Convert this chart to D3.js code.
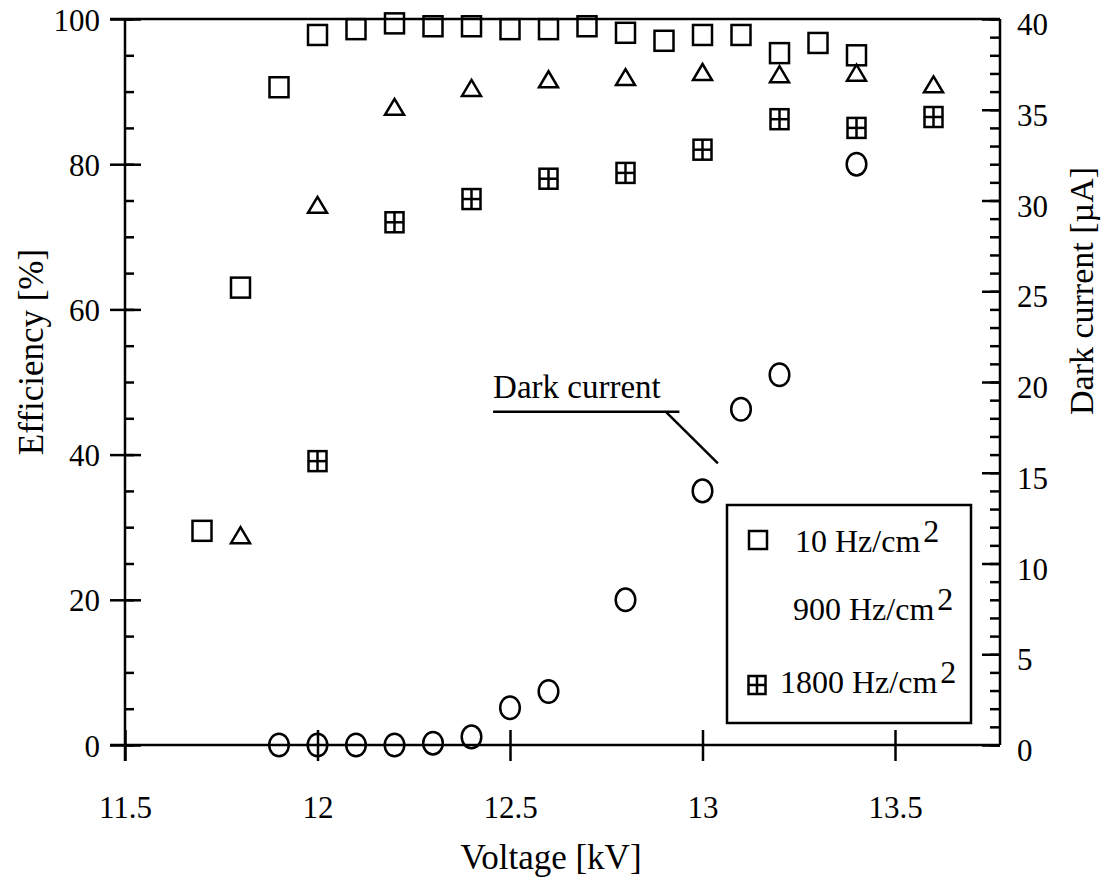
<!DOCTYPE html>
<html><head><meta charset="utf-8">
<script src="https://cdn.jsdelivr.net/npm/d3@7"></script>
<style>
body{margin:0;background:#fff}
</style></head><body>
<svg id="c" width="1104" height="883"></svg>
<script>
// ---- data ----
const voltage10 = [11.7,11.8,11.9,12.0,12.1,12.2,12.3,12.4,12.5,12.6,12.7,12.8,12.9,13.0,13.1,13.2,13.3,13.4];
const eff10     = [29.5,63.0,90.6,97.8,98.6,99.4,99.0,99.0,98.6,98.6,99.0,98.1,97.0,97.8,97.8,95.3,96.7,95.0];
const voltage900 = [11.8,12.0,12.2,12.4,12.6,12.8,13.0,13.2,13.4,13.6];
const eff900     = [28.9,74.4,87.9,90.5,91.7,92.0,92.7,92.4,92.6,91.0];
const voltage1800 = [12.0,12.2,12.4,12.6,12.8,13.0,13.2,13.4,13.6];
const eff1800     = [39.1,72.0,75.2,78.0,78.8,82.0,86.2,85.0,86.5];
const voltageDark = [11.9,12.0,12.1,12.2,12.3,12.4,12.5,12.6,12.8,13.0,13.1,13.2,13.4];
const darkCurrent = [0,0,0,0,0.1,0.45,2.05,2.95,8.0,14.0,18.5,20.4,32.0];
const xTicks = [11.5,12,12.5,13,13.5];
const yLeftTicks = [0,20,40,60,80,100];
const yLeftMinor = d3.range(0,101,5);
const yRightTicks = [0,5,10,15,20,25,30,35,40];
const yRightMinor = d3.range(0,41,1);
const legendLabels = ["10 Hz/cm","900 Hz/cm","1800 Hz/cm"];
const xLabel = "Voltage [kV]", yLeftLabel = "Efficiency [%]", yRightLabel = "Dark current [\u00b5A]";
const annotationText = "Dark current";

// ---- layout ----
const L = 125, R = 1000, T = 19, B = 745;
const FS = 31, LFS = 35;
const FONT = "Liberation Serif";
const svg = d3.select("#c");
const x = d3.scaleLinear().domain([11.5, 11.5 + (R-L)/385]).range([L, R]);
const yL = d3.scaleLinear().domain([0,100]).range([B, T]);
const yR = d3.scaleLinear().domain([0,40]).range([B, T]);
const SW = 2.5;

function styleAxis(g){
  g.attr("font-family",FONT);
  g.select(".domain").remove();
  g.selectAll("line").attr("stroke","#000").attr("stroke-width",SW);
  g.selectAll("text").attr("font-family",FONT).style("font-family",FONT).attr("font-size",FS).attr("fill","#000");
}
function txt(sel){ return sel.append("text").attr("font-family",FONT).style("font-family",FONT).attr("fill","#000"); }

// frame lines
const frame = svg.append("g").attr("stroke","#000").attr("stroke-width",SW).attr("fill","none");
frame.append("line").attr("x1",L).attr("x2",L).attr("y1",T).attr("y2",B+16);
frame.append("line").attr("x1",L-15).attr("x2",R).attr("y1",T).attr("y2",T);
frame.append("line").attr("x1",L-15).attr("x2",R).attr("y1",B).attr("y2",B);
frame.append("line").attr("x1",R).attr("x2",R).attr("y1",T).attr("y2",B);

// left axis
svg.append("g").attr("transform",`translate(${L},0)`)
  .call(d3.axisLeft(yL).tickValues(yLeftMinor).tickSize(-9).tickFormat(""))
  .call(styleAxis);
svg.append("g").attr("transform",`translate(${L},0)`)
  .call(d3.axisLeft(yL).tickValues(yLeftTicks).tickSize(15).tickPadding(10).tickFormat(d3.format("d")))
  .call(styleAxis)
  .call(g=>g.selectAll("line").attr("x1",16))
  .call(g=>g.selectAll("text").attr("dy","0.36em"));

// right axis
svg.append("g").attr("transform",`translate(${R},0)`)
  .call(d3.axisRight(yR).tickValues(yRightMinor).tickSize(-10).tickFormat(""))
  .call(styleAxis);
svg.append("g").attr("transform",`translate(${R},0)`)
  .call(d3.axisRight(yR).tickValues(yRightTicks).tickSize(-18).tickPadding(17).tickFormat(d3.format("d")))
  .call(styleAxis)
  .call(g=>g.selectAll("text").attr("dy","0.5em"));

// bottom axis
svg.append("g").attr("transform",`translate(0,${B})`)
  .call(d3.axisBottom(x).tickValues(xTicks).tickSize(16).tickFormat(d=>String(d)))
  .call(styleAxis)
  .call(g=>g.selectAll("line").attr("y1",-15))
  .call(g=>g.selectAll("text").attr("y",73).attr("dy",0));

// axis labels
txt(svg).attr("x",551).attr("y",869).attr("text-anchor","middle").attr("font-size",LFS).text(xLabel);
txt(svg).attr("transform",`translate(43,352) rotate(-90)`).attr("text-anchor","middle").attr("font-size",LFS).text(yLeftLabel);
txt(svg).attr("transform",`translate(1093,291) rotate(-90)`).attr("text-anchor","middle").attr("font-size",LFS-1).text(yRightLabel);

// markers
const mk = svg.append("g").attr("fill","none").attr("stroke","#000").attr("stroke-width",SW);
function square(g, cx, cy, w, h){
  g.append("rect").attr("x",cx-w/2).attr("y",cy-h/2).attr("width",w).attr("height",h);
}
function crossSquare(g, cx, cy, w, h){
  square(g,cx,cy,w,h);
  g.append("line").attr("x1",cx).attr("x2",cx).attr("y1",cy-h/2).attr("y2",cy+h/2);
  g.append("line").attr("x1",cx-w/2).attr("x2",cx+w/2).attr("y1",cy).attr("y2",cy);
}
function triangle(g, cx, cy){
  g.append("path").attr("d",`M${cx},${cy-8} L${cx+9.5},${cy+8} L${cx-9.5},${cy+8} Z`).attr("stroke-linejoin","miter");
}
voltage10.forEach((v,i)=>square(mk, x(v), yL(eff10[i]), 19, 20));
voltage900.forEach((v,i)=>triangle(mk, x(v), yL(eff900[i])));
voltage1800.forEach((v,i)=>crossSquare(mk, x(v), yL(eff1800[i]), 18, 20));
voltageDark.forEach((v,i)=>mk.append("ellipse").attr("cx",x(v)).attr("cy",yR(darkCurrent[i])).attr("rx",9.8).attr("ry",11.3));

// annotation (in data coords)
const ann = {tx:12.456, ty:45.9, lx2:12.94, dx1:12.905, dy2:38.8};
txt(svg).attr("x",x(ann.tx)).attr("y",yL(ann.ty)-14).attr("font-size",FS+2).text(annotationText);
const al = svg.append("g").attr("stroke","#000").attr("stroke-width",SW);
al.append("line").attr("x1",x(ann.tx)).attr("x2",x(ann.lx2)).attr("y1",yL(ann.ty)).attr("y2",yL(ann.ty));
al.append("line").attr("x1",x(ann.dx1)).attr("y1",yL(ann.ty)).attr("x2",x(13.04)).attr("y2",yL(ann.dy2));

// legend
const lg = svg.append("g");
lg.append("rect").attr("x",727).attr("y",505).attr("width",244).attr("height",218).attr("fill","#fff").attr("stroke","#000").attr("stroke-width",SW);
const lgm = lg.append("g").attr("fill","none").attr("stroke","#000").attr("stroke-width",SW);
square(lgm, 758, 540, 18, 18);
crossSquare(lgm, 757, 685, 17, 18);
const lx = [795, 793, 780], ly = [552, 620, 693];
legendLabels.forEach((t,i)=>{
  const tx = txt(lg).attr("x",lx[i]).attr("y",ly[i]).attr("font-size",FS+1);
  tx.append("tspan").text(t);
  tx.append("tspan").attr("dx",3).attr("dy",-10).text("2");
});
</script>
</body></html>
